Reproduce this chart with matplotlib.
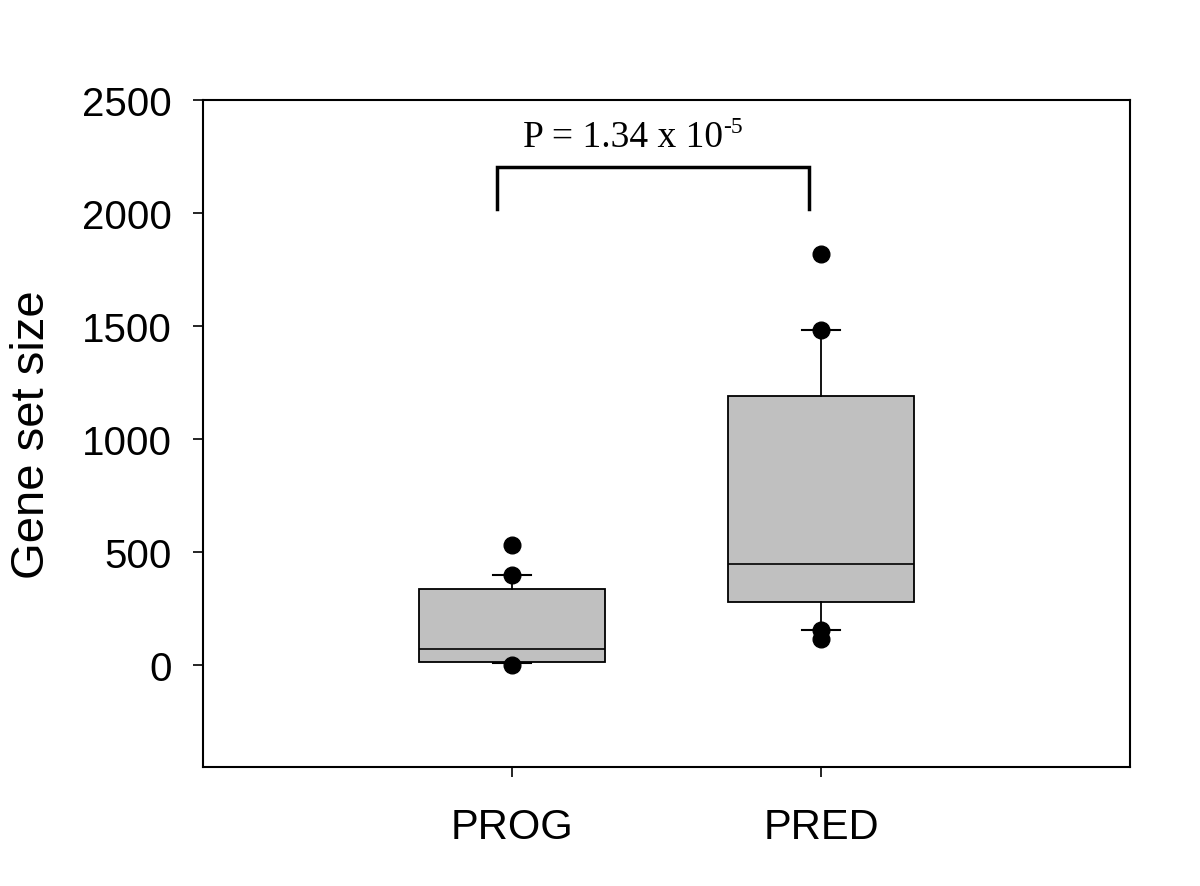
import numpy as np
import matplotlib
matplotlib.use("Agg")
import matplotlib.pyplot as plt

# Box statistics (SigmaPlot style: whiskers 10th/90th pct)
groups = ["PROG", "PRED"]
whislo = [12, 155]
q1 = [13, 279]
med = [71, 447]
q3 = [336, 1190]
whishi = [398, 1482]
fliers = [[531, 398, 3], [1819, 1482, 155, 115]]

p_main = "P = 1.34 x 10"
p_exp = "-5"
bracket_y = 2204
bracket_drop = 2018

plt.rcParams['font.family'] = ['Liberation Sans', 'DejaVu Sans']

fig = plt.figure(figsize=(12, 8.87), dpi=100)
ax = fig.add_axes([0.169, 0.134, 0.773, 0.752])

stats = []
for i, g in enumerate(groups):
    stats.append(dict(label=g, whislo=whislo[i], q1=q1[i], med=med[i],
                      q3=q3[i], whishi=whishi[i], fliers=fliers[i]))

pos = [1, 2]
ax.bxp(stats, positions=pos, widths=0.6, capwidths=0.123, patch_artist=True,
       boxprops=dict(facecolor='#c0c0c0', edgecolor='black', linewidth=1.3),
       medianprops=dict(color='black', linewidth=1.2),
       whiskerprops=dict(color='black', linewidth=1.3),
       capprops=dict(color='black', linewidth=1.5),
       flierprops=dict(marker='o', markerfacecolor='black', markeredgecolor='black',
                       markersize=12, linestyle='none'))

# significance bracket + p value
ax.plot([0.95, 0.95, 1.96, 1.96], [bracket_drop, bracket_y, bracket_y, bracket_drop],
        color='black', linewidth=2.5, solid_joinstyle='miter')
t = ax.text(1.035, 2295, p_main, ha='left', va='baseline', fontsize=27,
            family='Liberation Serif')
ax.annotate(p_exp, xy=(1, 0.5), xycoords=t, ha='left', va='bottom',
            fontsize=17, family='Liberation Serif')

ax.set_xlim(0, 3)
ax.set_ylim(-450, 2500)
ax.set_yticks([0, 500, 1000, 1500, 2000, 2500])
ax.set_xticks(pos)
ax.set_xticklabels(groups)
ax.tick_params(axis='y', labelsize=29, direction='out', length=7, width=1.2, pad=15)
ax.tick_params(axis='x', labelsize=30, direction='out', length=7, width=1.2, pad=22)
for s in ax.spines.values():
    s.set_linewidth(1.5)
ax.set_ylabel('Gene set size', fontsize=34, labelpad=20)

fig.savefig('out.png', dpi=100)
